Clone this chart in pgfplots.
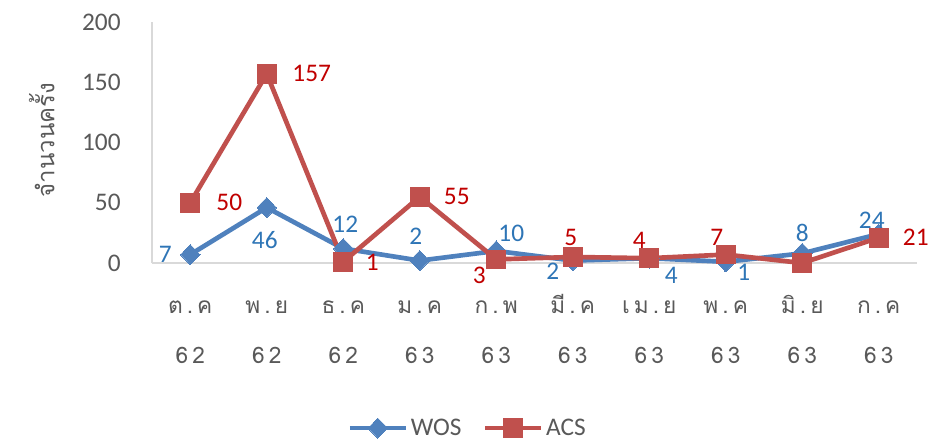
\documentclass[border=0pt]{standalone}
\usepackage{pgfplots}
\pgfplotsset{compat=1.18}
\usepackage{pgfplotstable}
\usepackage{fontspec}
\setmainfont{Carlito}
\newfontfamily\thai[Script=Thai]{Loma}
\newfontfamily\thaisp[Script=Thai,LetterSpace=18]{Loma}
\definecolor{wosline}{HTML}{4F81BD}
\definecolor{acsline}{HTML}{C0504D}
\definecolor{woslab}{HTML}{2E75B6}
\definecolor{acslab}{HTML}{C00000}
\definecolor{tickgray}{HTML}{595959}
\definecolor{axgray}{HTML}{D9D9D9}
\newcommand\ml[2]{\rule{0pt}{17pt}#1\\#2}

% x y label dx dy  (label offsets in px of the reference, y up)
\pgfplotstableread{
x y lab dx dy
0 7 7 -25 0
1 46 46 -2 -32
2 12 12 2 24
3 2 2 -4 24
4 10 10 15 18
5 2 2 -20 -11
6 4 4 22 -17
7 1 1 18 -11
8 8 8 0 20
9 24 24 -7 14
}\wos
\pgfplotstableread{
x y lab dx dy
0 50 50 39 0
1 157 157 45 0
2 1 1 29 -1
3 55 55 37 0
4 3 3 -17 -16
5 5 5 -2 20
6 4 4 -10 18
7 7 7 -9 17
8 0 {} 0 0
9 21 21 37 0
}\acs

\begin{document}
\begin{tikzpicture}
\begin{axis}[
  scale only axis, width=573.75pt, height=180.75pt,
  xmin=-0.5, xmax=9.5, ymin=0, ymax=200,
  ytick={0,50,100,150,200},
  xtick={0,...,9},
  xticklabels={{\ml{ต.ค}{62}},{\ml{พ.ย}{62}},{\ml{ธ.ค}{62}},{\ml{ม.ค}{63}},{\ml{ก.พ}{63}},{\ml{มี.ค}{63}},{\ml{เม.ย}{63}},{\ml{พ.ค}{63}},{\ml{มิ.ย}{63}},{\ml{ก.ค}{63}}},
  xticklabel style={align=center, font=\thaisp\fontsize{17}{37}\selectfont, text=tickgray,
    anchor=north, yshift=-17.5pt},
  yticklabel style={font=\fontsize{19}{23}\selectfont, text=tickgray, xshift=-20pt,
    /pgf/number format/assume math mode=true},
  axis lines=left, axis line style={draw=axgray, line width=1pt, -},
  major tick length=0pt,
  ylabel={จำนวนครั้ง},
  every axis y label/.style={at={(axis description cs:-0.144,0.51)}, rotate=90, anchor=center},
  ylabel style={font=\thai\fontsize{18}{20}\selectfont, text=tickgray},
  clip=false,
  nodes near coords, point meta=explicit symbolic,
  visualization depends on={0.75*\thisrow{dx} \as \dx},
  visualization depends on={0.75*\thisrow{dy} \as \dy},
  every node near coord/.append style={anchor=center, xshift=\dx pt, yshift=\dy pt,
    font=\fontsize{19}{23}\selectfont},
  legend style={at={(0.413,-0.685)}, anchor=center, draw=none, legend columns=2,
    font=\fontsize{19}{23}\selectfont, text=tickgray,
    /tikz/every even column/.append style={column sep=14pt}},
  legend image code/.code={\draw[#1, mark repeat=2, mark phase=2] plot coordinates {(0pt,0pt) (21pt,0pt) (42pt,0pt)};},
]
\addplot[color=wosline, line width=3.5pt, mark=diamond*, mark size=7.5pt,
  mark options={xscale=1.3, line width=0pt},
  every node near coord/.append style={text=woslab}]
  table[x=x, y=y, meta=lab] {\wos};
\addlegendentry{WOS}
\addplot[color=acsline, line width=3.5pt, mark=square*, mark size=7pt,
  mark options={line width=0pt},
  every node near coord/.append style={text=acslab}]
  table[x=x, y=y, meta=lab] {\acs};
\addlegendentry{ACS}
\end{axis}
\pgfresetboundingbox
\useasboundingbox (-114pt,-135pt) rectangle (594pt,197.25pt);
\end{tikzpicture}
\end{document}
